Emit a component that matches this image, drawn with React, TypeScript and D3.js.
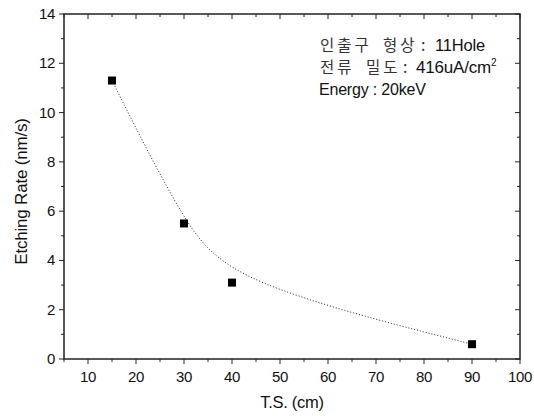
import React from "react";
import * as d3 from "d3";

const distances = [15, 30, 40, 90];
const rates = [11.3, 5.5, 3.1, 0.6];
const xTicks = [10, 20, 30, 40, 50, 60, 70, 80, 90, 100];
const yTicks = [0, 2, 4, 6, 8, 10, 12, 14];
const noteKorean = [
  ["인출구", "형상"],
  ["전류", "밀도"],
];
const noteValues = ["11Hole", "416uA/cm"];
const noteEnergy = "Energy : 20keV";

// x positions of the note pieces: [first word, second word, colon, value]
const noteCols = [
  [320, 383, 421, 435],
  [320, 366, 403, 416],
];

const W = 534;
const H = 416;
const m = { left: 64, right: 14, top: 14, bottom: 57 };

const App = () => {
  const x = d3.scaleLinear().domain([5, 100]).range([m.left, W - m.right]);
  const y = d3.scaleLinear().domain([0, 14]).range([H - m.bottom, m.top]);
  const pts: [number, number][] = distances.map((d, i) => [x(d), y(rates[i])]);
  const fit = d3.line().curve(d3.curveBasis)(pts) || "";

  const xMinor = d3.range(5, 101, 5);
  const yMinor = d3.range(0, 15, 1);
  const x0 = m.left;
  const x1 = W - m.right;
  const y0 = H - m.bottom;
  const y1 = m.top;
  const font = "'Liberation Sans', Arial, sans-serif";
  const kfont = "'Noto Sans CJK KR', sans-serif";

  return (
    <svg width={W} height={H} style={{ position: "absolute", left: 0, top: 0 }}>
      <rect width={W} height={H} fill="#fff" />
      <g stroke="#222" strokeWidth={1}>
        {xMinor.map((t) => (
          <g key={"x" + t}>
            <line x1={x(t)} x2={x(t)} y1={y0} y2={y0 + (t % 10 === 0 ? 5 : 3)} />
            <line x1={x(t)} x2={x(t)} y1={y1} y2={y1 + (t % 10 === 0 ? 5 : 3)} />
          </g>
        ))}
        {yMinor.map((t) => (
          <g key={"y" + t}>
            <line x1={x0} x2={x0 - (t % 2 === 0 ? 5 : 3)} y1={y(t)} y2={y(t)} />
            <line x1={x1} x2={x1 - (t % 2 === 0 ? 5 : 3)} y1={y(t)} y2={y(t)} />
          </g>
        ))}
      </g>
      <rect x={x0} y={y1} width={x1 - x0} height={y0 - y1} fill="none" stroke="#222" strokeWidth={1.5} />
      <g fontFamily={font} fontSize={15} fill="#111">
        {xTicks.map((t) => (
          <text key={t} x={x(t)} y={382} textAnchor="middle" letterSpacing={-0.4}>
            {t}
          </text>
        ))}
        {yTicks.map((t) => (
          <text key={t} x={55} y={y(t) + 5} textAnchor="end" letterSpacing={-0.4}>
            {t}
          </text>
        ))}
      </g>
      <text x={(x0 + x1) / 2} y={408} textAnchor="middle" fontFamily={font} fontSize={16.5} fill="#111" letterSpacing={-0.3}>
        T.S. (cm)
      </text>
      <text
        transform={`translate(27,${(y0 + y1) / 2 + 5}) rotate(-90)`}
        textAnchor="middle"
        fontFamily={font}
        fontSize={17}
        fill="#111"
        letterSpacing={-0.2}
      >
        Etching Rate (nm/s)
      </text>
      <path d={fit} fill="none" stroke="#222" strokeWidth={1} strokeDasharray="1,2" />
      {pts.map(([px, py], i) => (
        <rect key={i} x={px - 4} y={py - 4} width={8} height={8} fill="#000" />
      ))}
      <g fontSize={16} fill="#111">
        {noteKorean.map((words, i) => (
          <g key={i}>
            <text y={51 + i * 22} fontFamily={kfont} fontSize={15.5} fill="#333" letterSpacing={3}>
              <tspan x={noteCols[i][0]}>{words[0]}</tspan>
              <tspan x={noteCols[i][1]}>{words[1]}</tspan>
            </text>
            <text x={noteCols[i][2]} y={51 + i * 22} fontFamily={kfont} fill="#333">:</text>
            <text
              x={noteCols[i][3]}
              y={51 + i * 22}
              fontFamily={font}
              fontSize={i === 1 ? 17 : 16.5}
              letterSpacing={-0.2}
            >
              {noteValues[i]}
              {i === 1 && (
                <tspan fontSize={10} dy={-7}>2</tspan>
              )}
            </text>
          </g>
        ))}
        <text x={319} y={95} fontFamily={font} letterSpacing={-0.2}>{noteEnergy}</text>
      </g>
    </svg>
  );
};

export default App;
